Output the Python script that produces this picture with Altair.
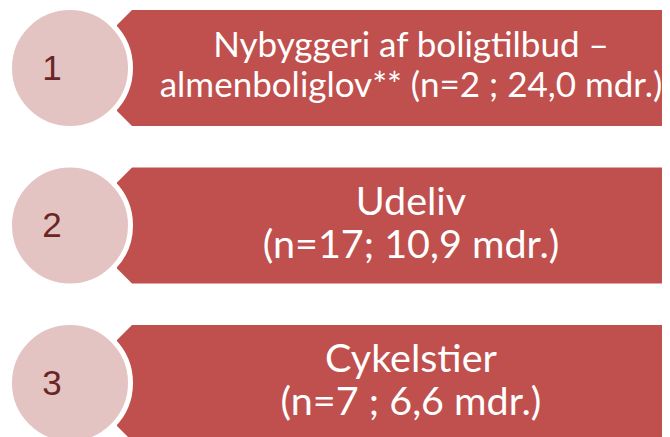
import altair as alt
import pandas as pd

# ---- data -------------------------------------------------------------
ranks = [1, 2, 3]
titles = ["Nybyggeri af boligtilbud –", "Udeliv", "Cykelstier"]
title_tail = ["almenboliglov** ", "", ""]
n_values = [2, 17, 7]
months = [24.0, 10.9, 6.6]
separators = [" ; ", "; ", " ; "]

# ---- layout (page pixels) ---------------------------------------------
MARGIN = 8
CHART_W, CHART_H = 654, 429
CIRCLE_X = 70
FIRST_Y = 68
STEP = 157.5
HALF_H = 58
CHAMFER = 15
BAND_X0 = 117
BAND_X1 = 670
TEXT_X = 411
NUM_X = 52
FONT_SIZES = [35, 39.5, 39.5]      # first banner text is shrunk to fit
LINE1_DY = [-11, -10.5, -11]
LINE2_DY = [29, 32.5, 32]

BANNER = "#C0504D"
CIRCLE = "#E4C3C3"
NUMCOL = "#6A2524"


def fmt(v):
    return f"{v:.1f}".replace(".", ",")


items, band = [], []
for i, (r, t, tail, n, m, sep) in enumerate(zip(ranks, titles, title_tail, n_values, months, separators)):
    cy = FIRST_Y + (r - 1) * STEP
    items.append(dict(rank=r, cx=CIRCLE_X, nx=NUM_X, tx=TEXT_X, cy=cy, num=str(r),
                      ny=cy + 11.5, y1=cy + LINE1_DY[i], y2=cy + LINE2_DY[i], fs=FONT_SIZES[i],
                      line1=t, line2=f"{tail}(n={n}{sep}{fmt(m)} mdr.)"))
    band += [
        dict(rank=r, x=BAND_X0, top=cy - HALF_H + CHAMFER, bot=cy + HALF_H - CHAMFER),
        dict(rank=r, x=BAND_X0 + CHAMFER, top=cy - HALF_H, bot=cy + HALF_H),
        dict(rank=r, x=BAND_X1, top=cy - HALF_H, bot=cy + HALF_H),
    ]

items = pd.DataFrame(items)
band = pd.DataFrame(band)

xs = alt.Scale(domain=[MARGIN, MARGIN + CHART_W], nice=False, zero=False)
ys = alt.Scale(domain=[MARGIN, MARGIN + CHART_H], nice=False, zero=False, reverse=True)

banners = alt.Chart(band).mark_area(color=BANNER, orient="vertical", clip=True, opacity=1).encode(
    x=alt.X("x:Q", scale=xs, axis=None),
    y=alt.Y("top:Q", scale=ys, axis=None),
    y2="bot:Q",
    detail="rank:N",
)

circles = alt.Chart(items).mark_point(
    shape="circle", filled=True, fill=CIRCLE, fillOpacity=1, stroke="white",
    strokeWidth=5, strokeOpacity=1, size=(2 * (HALF_H + 2.5)) ** 2, clip=True, opacity=1
).encode(
    x=alt.X("cx:Q", scale=xs, axis=None),
    y=alt.Y("cy:Q", scale=ys, axis=None),
)

numbers = alt.Chart(items).mark_text(
    font="Liberation Sans", fontSize=35, color=NUMCOL, align="center", baseline="alphabetic"
).encode(
    x=alt.X("nx:Q", scale=xs, axis=None),
    y=alt.Y("ny:Q", scale=ys, axis=None),
    text="num:N",
)

line1 = alt.Chart(items).mark_text(
    font="Lato", color="white", align="center", baseline="alphabetic"
).encode(
    x=alt.X("tx:Q", scale=xs, axis=None),
    y=alt.Y("y1:Q", scale=ys, axis=None),
    size=alt.Size("fs:Q", scale=None, legend=None),
    text="line1:N",
)

line2 = alt.Chart(items).mark_text(
    font="Lato", color="white", align="center", baseline="alphabetic"
).encode(
    x=alt.X("tx:Q", scale=xs, axis=None),
    y=alt.Y("y2:Q", scale=ys, axis=None),
    size=alt.Size("fs:Q", scale=None, legend=None),
    text="line2:N",
)

chart = alt.layer(banners, circles, numbers, line1, line2).properties(
    width=CHART_W, height=CHART_H,
    autosize=alt.AutoSizeParams(type="none"), padding=0, background="white",
).configure_view(stroke=None)

chart.save("out.html", embed_options={"renderer": "svg", "actions": False})
